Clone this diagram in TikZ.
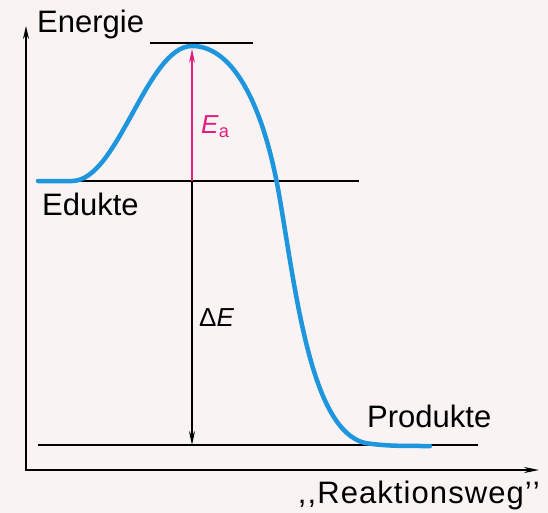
\documentclass[tikz,border=0pt]{standalone}
\usepackage{fontspec}
\setmainfont{Liberation Sans}
\usetikzlibrary{arrows.meta}
\definecolor{curveblue}{RGB}{30,150,222}
\definecolor{eamagenta}{RGB}{226,30,128}
\definecolor{paper}{RGB}{250,243,243}

\begin{document}
\begin{tikzpicture}[
    x=1pt, y=-1pt,
    lbl/.style={inner sep=0pt, anchor=base west, font=\fontsize{31}{37}\selectfont},
    sym/.style={inner sep=0pt, anchor=base west, font=\fontsize{26}{31}\selectfont},
    axis/.style={{Stealth[length=13pt, width=6pt]}-{Stealth[length=15pt, width=6pt]}, line width=1.8pt, line join=miter},
    level/.style={line width=1.6pt},
    link/.style={-{Stealth[length=14pt, width=6pt]}, line width=1.2pt}
]
\fill[paper] (0,0) rectangle (548,513);
% axes
\coordinate (ytop) at (26,26);
\coordinate (orig) at (26,470);
\coordinate (xend) at (539,470);
\draw[axis] (ytop) -- (orig) -- (xend);
% energy levels
\coordinate (topL) at (150,43);
\coordinate (topR) at (253,43);
\coordinate (eduL) at (38,181);
\coordinate (eduR) at (359,181);
\coordinate (proL) at (38,445);
\coordinate (proR) at (478,445);
\draw[level] (topL) -- (topR);
\draw[level] (eduL) -- (eduR);
\draw[level] (proL) -- (proR);
% arrows
\coordinate (eduX) at (192,181);
\coordinate (topX) at (192,49);
\coordinate (proX) at (192,445);
\draw[link, eamagenta] (eduX) -- (topX);
\draw[link] (eduX) -- (proX);
% reaction curve
\draw[curveblue, line width=4.5pt, line cap=round]
    (eduL) -- (72,181) .. controls (118,181) and (147,46) .. (192,46)
    .. controls (235,46) and (265,110) .. (280,200)
    .. controls (297,300) and (312,430) .. (365,443)
    .. controls (385,446) and (400,446) .. (430,446);
% labels
\node[lbl] (energie) at (37,33) {Energie};
\node[lbl] (edukte) at (42,215) {Edukte};
\node[lbl] (produkte) at (367,427) {Produkte};
\node[lbl, anchor=base east] (weg) at (540,503) {\addfontfeature{LetterSpace=3.5},\kern1pt,Reaktionsweg'\kern1pt'};
\node[sym, text=eamagenta] (ea) at (201,134) {\textit{E}\textsubscript{a}};
\node[sym] (de) at (199,326) {Δ\textit{E}};
\end{tikzpicture}
\end{document}
